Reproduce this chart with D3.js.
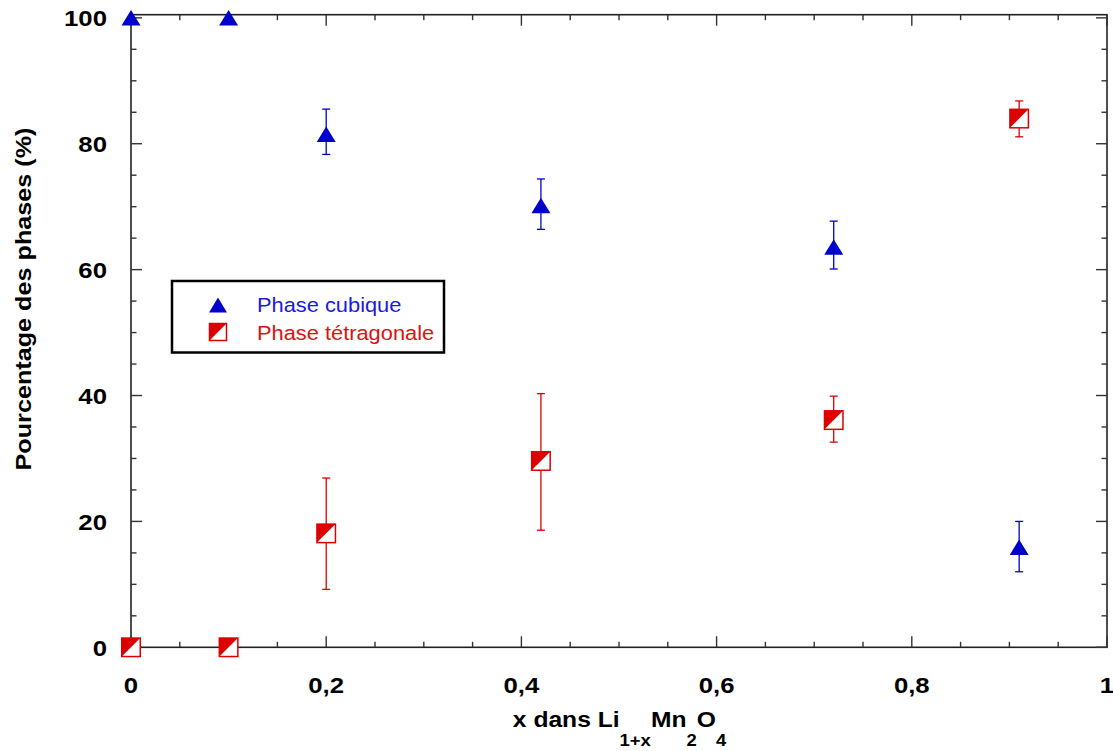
<!DOCTYPE html>
<html>
<head>
<meta charset="utf-8">
<script src="https://cdn.jsdelivr.net/npm/d3@7"></script>
<style>
  html, body { margin: 0; padding: 0; background: #fff; }
  svg { display: block; }
  text { font-family: "Liberation Sans", Arial, Helvetica, sans-serif; }
</style>
</head>
<body>
<svg id="chart" width="1113" height="751"></svg>
<script>
// ---- data ----
const xValues = [0, 0.1, 0.2, 0.42, 0.72, 0.91];
const cubic = [100, 100, 81.5, 70.2, 63.6, 15.9];
const cubicHi = [null, null, 85.5, 74.4, 67.7, 20.0];
const cubicLo = [null, null, 78.3, 66.4, 60.1, 12.0];
const tetra = [0, 0, 18.1, 29.6, 36.1, 84.0];
const tetraHi = [null, null, 26.9, 40.3, 39.9, 86.8];
const tetraLo = [null, null, 9.2, 18.6, 32.6, 81.1];
const xTicks = [0, 0.2, 0.4, 0.6, 0.8, 1];
const yTicks = [0, 20, 40, 60, 80, 100];
const legendLabels = ["Phase cubique", "Phase tétragonale"];

const BLUE = "#0000cc";
const RED = "#dd0000";
const SX = 1.12; // horizontal text stretch

const svg = d3.select("#chart");
const x = d3.scaleLinear().domain([0, 1]).range([131, 1107]);
const y = d3.scaleLinear().domain([0, 100.5]).range([647.3, 14.7]);

const fmt = d => d === 0 ? "0" : d === 1 ? "1" : String(d).replace(".", ",");

// frame
svg.append("rect")
  .attr("x", x(0)).attr("y", y(100.5))
  .attr("width", x(1) - x(0)).attr("height", y(0) - y(100.5))
  .attr("fill", "none").attr("stroke", "#222").attr("stroke-width", 1.6);

// ticks (inward on all four sides)
const xMinor = d3.range(0, 1.0001, 0.05);
const yMinor = d3.range(0, 100.0001, 5);
const tickG = svg.append("g").attr("stroke", "#333").attr("stroke-width", 1.4);
xMinor.forEach(v => {
  const major = Math.abs(v * 5 - Math.round(v * 5)) < 1e-6;
  const L = major ? 11 : 5.5;
  tickG.append("line").attr("x1", x(v)).attr("x2", x(v)).attr("y1", y(0)).attr("y2", y(0) - L);
  tickG.append("line").attr("x1", x(v)).attr("x2", x(v)).attr("y1", y(100.5)).attr("y2", y(100.5) + L);
});
yMinor.forEach(v => {
  const major = v % 20 === 0;
  const L = major ? 11 : 5.5;
  tickG.append("line").attr("y1", y(v)).attr("y2", y(v)).attr("x1", x(0)).attr("x2", x(0) + L);
  tickG.append("line").attr("y1", y(v)).attr("y2", y(v)).attr("x1", x(1)).attr("x2", x(1) - L);
});

// tick labels
xTicks.forEach(v => {
  svg.append("text")
    .attr("transform", `translate(${x(v)},692.5) scale(${SX},1)`)
    .attr("text-anchor", "middle").attr("font-size", 23).attr("font-weight", "bold")
    .text(fmt(v));
});
yTicks.forEach(v => {
  svg.append("text")
    .attr("transform", `translate(107,${y(v) + 8.3}) scale(${SX},1)`)
    .attr("text-anchor", "end").attr("font-size", 23).attr("font-weight", "bold")
    .text(fmt(v));
});

// axis titles
svg.append("text")
  .attr("transform", `translate(31,299) rotate(-90) scale(${SX},1)`)
  .attr("text-anchor", "middle").attr("font-size", 22.5).attr("font-weight", "bold")
  .text("Pourcentage des phases (%)");

const xt = svg.append("text")
  .attr("transform", `translate(619.5,727) scale(${SX},1)`)
  .attr("text-anchor", "middle").attr("font-size", 22).attr("font-weight", "bold");
const SUB = 19;
xt.append("tspan").text("x dans Li");
xt.append("tspan").attr("font-size", 16.5).attr("dy", SUB).text("1+x");
xt.append("tspan").attr("dy", -SUB).text("Mn");
xt.append("tspan").attr("font-size", 16.5).attr("dy", SUB).text("2");
xt.append("tspan").attr("dy", -SUB).text("O");
xt.append("tspan").attr("font-size", 16.5).attr("dy", SUB).text("4");

// marker helpers
function triangle(g, cx, cy, w, h) {
  g.append("path")
    .attr("d", `M${cx},${cy - h / 2} L${cx + w / 2},${cy + h / 2} L${cx - w / 2},${cy + h / 2} Z`)
    .attr("fill", BLUE);
}
function halfSquare(g, cx, cy, s) {
  const x0 = cx - s / 2, y0 = cy - s / 2;
  g.append("rect").attr("x", x0).attr("y", y0).attr("width", s).attr("height", s)
    .attr("fill", "#fff");
  g.append("path")
    .attr("d", `M${x0},${y0} L${x0 + s},${y0} L${x0},${y0 + s} Z`)
    .attr("fill", RED);
  g.append("rect").attr("x", x0).attr("y", y0).attr("width", s).attr("height", s)
    .attr("fill", "none").attr("stroke", RED).attr("stroke-width", 1.5);
}
function errBar(g, cx, hi, lo, color) {
  g.append("line").attr("x1", cx).attr("x2", cx).attr("y1", y(hi)).attr("y2", y(lo))
    .attr("stroke", color).attr("stroke-width", 1.3);
  [hi, lo].forEach(v => {
    g.append("line").attr("x1", cx - 4).attr("x2", cx + 4).attr("y1", y(v)).attr("y2", y(v))
      .attr("stroke", color).attr("stroke-width", 1.3);
  });
}

const plot = svg.append("g");
xValues.forEach((xv, i) => {
  if (cubicHi[i] != null) errBar(plot, x(xv), cubicHi[i], cubicLo[i], BLUE);
  if (tetraHi[i] != null) errBar(plot, x(xv), tetraHi[i], tetraLo[i], RED);
});
xValues.forEach((xv, i) => {
  halfSquare(plot, x(xv), y(tetra[i]), 18.5);
  triangle(plot, x(xv), y(cubic[i]), 19, 15.5);
});

// legend
const lg = svg.append("g");
lg.append("rect").attr("x", 172).attr("y", 281).attr("width", 272).attr("height", 71.5)
  .attr("fill", "#fff").attr("stroke", "#000").attr("stroke-width", 2.5);
triangle(lg, 218, 305, 18, 15);
halfSquare(lg, 218, 332, 17);
lg.append("text").attr("transform", `translate(257,312) scale(${SX},1)`)
  .attr("font-size", 19.5).attr("fill", "#1a1ae0").text(legendLabels[0]);
lg.append("text").attr("transform", `translate(257,340) scale(${SX},1)`)
  .attr("font-size", 19.5).attr("fill", "#e01010").text(legendLabels[1]);
</script>
</body>
</html>
